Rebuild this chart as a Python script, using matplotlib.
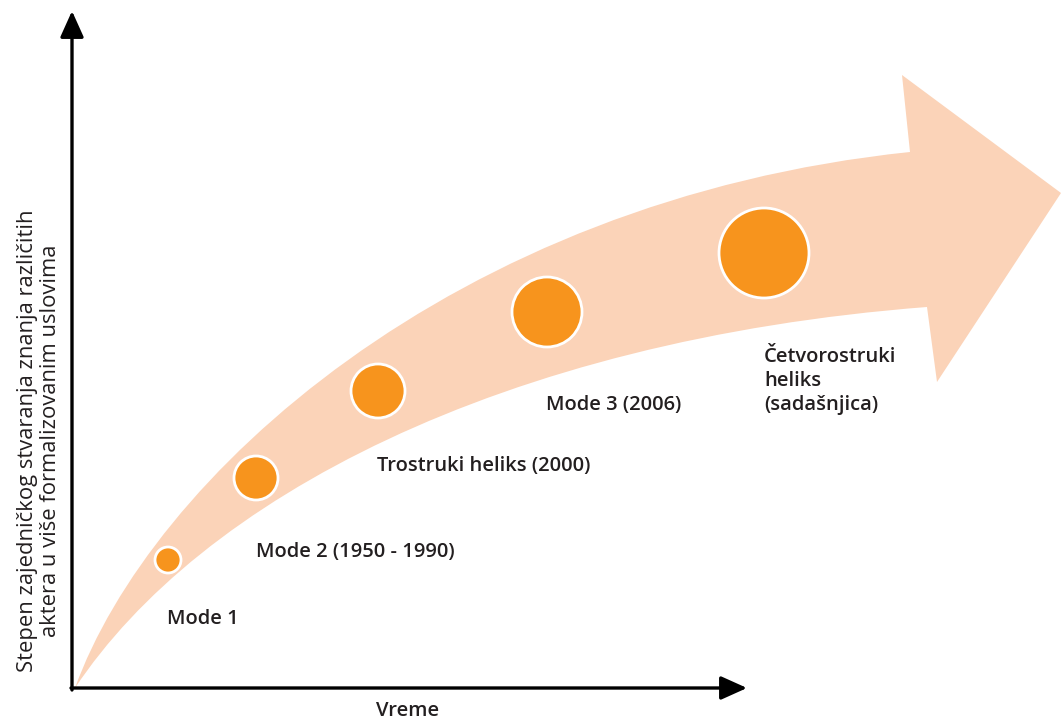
import matplotlib.pyplot as plt
from matplotlib.patches import Circle, PathPatch
from matplotlib.path import Path

# stages along the curve (pixel-space layout of the original diagram)
stage_labels = ["Mode 1", "Mode 2 (1950 - 1990)", "Trostruki heliks (2000)",
                "Mode 3 (2006)", "Četvorostruki\nheliks\n(sadašnjica)"]
stage_x = [168, 256, 378, 547, 764]
stage_y = [560, 478, 391, 312, 253]
stage_r = [13, 22, 27, 35, 45]
label_x = [167, 256, 377, 546, 764]
label_y = [619, 552, 466, 405, 381]

x_label = "Vreme"
y_label = "Stepen zajedničkog stvaranja znanja različitih\naktera u više formalizovanim uslovima"

BAND = "#fbd3b8"
DOT = "#f7941d"
INK = "#231f20"

fig = plt.figure(figsize=(10.61, 7.22), dpi=100)
ax = fig.add_axes([0, 0, 1, 1])
ax.set_xlim(0, 1061)
ax.set_ylim(722, 0)
ax.axis("off")

# curved broad arrow
verts = [(75, 688), (150, 480), (450, 200), (910, 152),
         (902, 75), (1061, 193), (937, 382), (927, 307),
         (500, 340), (200, 500), (75, 688), (75, 688)]
codes = [Path.MOVETO, Path.CURVE4, Path.CURVE4, Path.CURVE4,
         Path.LINETO, Path.LINETO, Path.LINETO, Path.LINETO,
         Path.CURVE4, Path.CURVE4, Path.CURVE4, Path.CLOSEPOLY]
ax.add_patch(PathPatch(Path(verts, codes), facecolor=BAND, edgecolor="none", zorder=1))

# axes arrows
arrow = dict(arrowstyle="-|>,head_length=0.8,head_width=0.36", color="black",
             lw=2.4, mutation_scale=20, shrinkA=0, shrinkB=0)
ax.annotate("", xy=(72, 11), xytext=(72, 690), arrowprops=arrow, zorder=3)
ax.annotate("", xy=(747, 688), xytext=(71, 688), arrowprops=arrow, zorder=3)

for x, y, r in zip(stage_x, stage_y, stage_r):
    ax.add_patch(Circle((x, y), r, facecolor=DOT, edgecolor="white", lw=2, zorder=2))

for lab, x, y in zip(stage_labels, label_x, label_y):
    ax.text(x, y, lab, ha="left", va="center", fontsize=14.5, fontweight="semibold",
            family=["Open Sans", "DejaVu Sans"], color=INK, linespacing=1.25, zorder=4)

ax.text(408, 711, x_label, ha="center", va="center", fontsize=14.5, fontweight="semibold",
        family=["Open Sans", "DejaVu Sans"], color=INK)
ax.text(39, 441, y_label, ha="center", va="center", rotation=90, fontsize=15.8,
        fontweight="medium", family=["Open Sans", "DejaVu Sans"], color=INK,
        linespacing=1.15)

fig.savefig("out.png", dpi=100)
